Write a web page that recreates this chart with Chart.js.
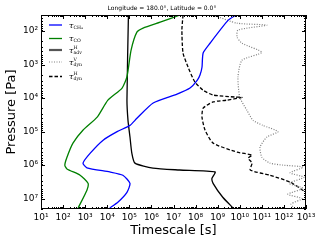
<!DOCTYPE html>
<html>
<head>
<meta charset="utf-8">
<script src="https://cdn.jsdelivr.net/npm/chart.js@4.4.1/dist/chart.umd.min.js"></script>
<style>
html, body { margin: 0; padding: 0; background: #fff; }
#wrap { width: 324px; height: 243px; }
</style>
</head>
<body>
<div id="wrap"><canvas id="chart"></canvas></div>
<script>
// timescale [s] and pressure [Pa]
var tauCH4 = [6.8e9, 3e9, 4.5e8, 2.2e8, 1.95e8, 1.6e8, 1.2e8, 5.6e7, 1.45e7, 1.2e6, 2.2e5, 1.07e5, 2.8e4, 6.5e3, 1.7e3, 8e2, 1.2e3, 1.3e4, 5.1e4, 1.07e5, 7.8e4, 3.1e4, 1.3e4];
var presCH4 = [33, 47, 230, 450, 1.2e3, 2e3, 2.9e3, 5e3, 7.6e3, 1.4e4, 4e4, 6.5e4, 1e5, 1.8e5, 4.4e5, 8.7e5, 1.2e6, 1.6e6, 2e6, 3.5e6, 6.5e6, 1.26e7, 1.9e7];

var tauCO = [2e7, 2.5e6, 4.2e5, 2.2e5, 1.2e5, 7.8e4, 4.7e4, 1.07e4, 3.5e3, 7.9e2, 2.8e2, 1.5e2, 1.2e2, 1.5e2, 5.9e2, 1.35e3, 1.2e3, 4.8e2];
var presCO = [33, 54, 81, 107, 370, 2.3e3, 5e3, 1.15e4, 3.7e4, 9.1e4, 2.2e5, 5.8e5, 1e6, 1.3e6, 2e6, 3.5e6, 5.6e6, 1.9e7];

var tauAdv = [9.1e4, 7.8e4, 8.7e4, 1.07e5, 1.3e5, 1.8e5, 1.17e6, 1.9e7, 7.6e8, 5.5e8, 6.2e8, 1.7e9, 5e9];
var presAdv = [33, 1.15e4, 4.6e4, 1.45e5, 4.4e5, 8.7e5, 1.23e6, 1.4e6, 1.6e6, 2.5e6, 3.5e6, 9.1e6, 1.9e7];

var tauDynV = [6.2e8, 7.6e9, 1.7e11, 8.3e9, 7.6e9, 1.26e10, 1e11, 1.26e10, 8.3e9, 1e10, 2.1e10, 4e10, 1.1e11, 5.4e11, 1.7e11, 8.3e10, 1e11, 2.3e11, 9.1e11, 7.4e12, 1.9e12, 8.1e12, 1.7e12, 7.4e12, 1.5e12, 6.6e12, 2.1e12, 2.9e12];
var presDynV = [33, 58, 66, 93, 150, 230, 430, 740, 2.3e3, 9.3e3, 2.3e4, 4.6e4, 6.5e4, 1e5, 1.45e5, 2.9e5, 5.8e5, 8.7e5, 1e6, 1.15e6, 1.7e6, 2.3e6, 3.5e6, 4.9e6, 7.4e6, 1e7, 1.45e7, 1.9e7];

var tauDynH = [2.7e7, 2.4e7, 2.7e7, 4.6e7, 9.3e7, 2.2e8, 6.2e8, 6.2e9, 1.26e10, 2.6e9, 6.2e8, 2.2e8, 1.95e8, 2.7e8, 6.2e8, 7.6e9, 3.6e10, 2.4e10, 3.6e10, 3e10, 2.3e11, 1.9e12, 1e13];
var presDynH = [33, 93, 450, 1.2e3, 3.3e3, 5.8e3, 8.1e3, 9.3e3, 9.5e3, 1.15e4, 1.3e4, 2e4, 3.7e4, 9.1e4, 2.2e5, 4.1e5, 5e5, 6.2e5, 8.7e5, 1.4e6, 2e6, 3.2e6, 6.5e6];

var xRange = [10, 1e13];
var yRange = [33, 2.04e7];

var SUP = {'0':'⁰','1':'¹','2':'²','3':'³','4':'⁴','5':'⁵','6':'⁶','7':'⁷','8':'⁸','9':'⁹','-':'⁻'};

function pts(xs, ys) {
    var out = [];
    for (var i = 0; i < xs.length; i++) out.push({x: xs[i], y: ys[i]});
    return out;
}

function isPow10(v) {
    var l = Math.log10(v);
    return Math.abs(l - Math.round(l)) < 1e-9;
}

function powLabel(v) {
    if (!isPow10(v)) return '';
    var e = String(Math.round(Math.log10(v)));
    return '10' + e.split('').map(function (c) { return SUP[c]; }).join('');
}

function logTicks(min, max) {
    var t = [];
    for (var n = Math.floor(Math.log10(min)); n <= Math.ceil(Math.log10(max)); n++) {
        for (var m = 1; m < 10; m++) {
            var v = m * Math.pow(10, n);
            if (m === 1) v = Math.pow(10, n);
            if (v >= min * 0.999 && v <= max * 1.001) t.push({value: v});
        }
    }
    return t;
}

var legendItems = [
    {color: '#0000ff', dash: [], width: 1.3, sup: '', sub: 'CH\u2084'},
    {color: '#008000', dash: [], width: 1.3, sup: '', sub: 'CO'},
    {color: '#555555', dash: [], width: 2.2, sup: 'H', sub: 'adv'},
    {color: '#808080', dash: [1, 1.5], width: 1.2, sup: 'V', sub: 'dyn'},
    {color: '#000000', dash: [3.5, 2], width: 1.3, sup: 'H', sub: 'dyn'}
];
var legendY = [25, 38.5, 50, 62, 76.5];

var decor = {
    id: 'decor',
    afterDraw: function (chart) {
        var ctx = chart.ctx, a = chart.chartArea;
        var sx = chart.scales.x, sy = chart.scales.y;
        ctx.save();
        ctx.strokeStyle = '#000';
        ctx.lineWidth = 1;
        ctx.setLineDash([]);
        ctx.strokeRect(a.left + 0.5, a.top + 0.5, a.right - a.left - 1, a.bottom - a.top - 1);
        // inward ticks on all sides
        sx.ticks.forEach(function (t) {
            var px = Math.round(sx.getPixelForValue(t.value)) + 0.5;
            var len = isPow10(t.value) ? 4 : 2;
            ctx.beginPath();
            ctx.moveTo(px, a.bottom); ctx.lineTo(px, a.bottom - len);
            ctx.moveTo(px, a.top); ctx.lineTo(px, a.top + len);
            ctx.stroke();
        });
        sy.ticks.forEach(function (t) {
            var py = Math.round(sy.getPixelForValue(t.value)) + 0.5;
            var len = isPow10(t.value) ? 4 : 2;
            ctx.beginPath();
            ctx.moveTo(a.left, py); ctx.lineTo(a.left + len, py);
            ctx.moveTo(a.right, py); ctx.lineTo(a.right - len, py);
            ctx.stroke();
        });
        // title
        ctx.fillStyle = '#000';
        ctx.font = '6px "DejaVu Sans"';
        ctx.textAlign = 'center';
        ctx.textBaseline = 'middle';
        ctx.fillText('Longitude = 180.0°, Latitude = 0.0°', 162, 8);
        // legend
        legendItems.forEach(function (it, i) {
            var y = legendY[i];
            ctx.strokeStyle = it.color;
            ctx.lineWidth = it.width;
            ctx.setLineDash(it.dash);
            ctx.beginPath();
            ctx.moveTo(49, y); ctx.lineTo(62, y);
            ctx.stroke();
            ctx.setLineDash([]);
            ctx.fillStyle = '#000';
            ctx.textAlign = 'left';
            ctx.textBaseline = 'alphabetic';
            ctx.font = 'italic 8px "DejaVu Serif"';
            ctx.fillText('τ', 69, y + 2.5);
            ctx.font = '4.6px "DejaVu Serif"';
            ctx.fillText(it.sub, 73.5, y + 3.8);
            if (it.sup) ctx.fillText(it.sup, 73.5, y - 1.5);
        });
        ctx.restore();
    }
};

var ctx = document.getElementById('chart').getContext('2d');
new Chart(ctx, {
    type: 'scatter',
    data: {
        datasets: [
            {data: pts(tauCH4, presCH4), borderColor: '#0000ff', borderWidth: 1.3},
            {data: pts(tauCO, presCO), borderColor: '#008000', borderWidth: 1.3},
            {data: pts(tauAdv, presAdv), borderColor: '#000000', borderWidth: 1.3},
            {data: pts(tauDynV, presDynV), borderColor: '#808080', borderWidth: 1.2, borderDash: [1, 1.5]},
            {data: pts(tauDynH, presDynH), borderColor: '#000000', borderWidth: 1.3, borderDash: [3.5, 2]}
        ]
    },
    options: {
        responsive: true,
        maintainAspectRatio: false,
        animation: false,
        showLine: true,
        elements: {
            point: {radius: 0, hoverRadius: 0},
            line: {tension: 0.2, fill: false}
        },
        layout: {padding: {top: 15, right: 18, left: 0, bottom: 0}},
        plugins: {legend: {display: false}, tooltip: {enabled: false}},
        scales: {
            x: {
                type: 'logarithmic',
                min: xRange[0], max: xRange[1],
                afterBuildTicks: function (s) { s.ticks = logTicks(xRange[0], xRange[1]); },
                afterFit: function (s) { s.height = 34; },
                grid: {display: false, drawTicks: false},
                border: {display: false},
                ticks: {
                    autoSkip: false, maxRotation: 0, padding: 3,
                    color: '#000', font: {family: 'DejaVu Sans', size: 9},
                    callback: function (v) { return powLabel(v); }
                },
                title: {display: true, text: 'Timescale [s]', color: '#000',
                    font: {family: 'DejaVu Sans', size: 13}, padding: {top: 0, bottom: 5}}
            },
            y: {
                type: 'logarithmic',
                reverse: true,
                min: yRange[0], max: yRange[1],
                afterBuildTicks: function (s) { s.ticks = logTicks(yRange[0], yRange[1]); },
                afterFit: function (s) { s.width = 41; },
                grid: {display: false, drawTicks: false},
                border: {display: false},
                ticks: {
                    autoSkip: false, padding: 3,
                    color: '#000', font: {family: 'DejaVu Sans', size: 9},
                    callback: function (v) { return powLabel(v); }
                },
                title: {display: true, text: 'Pressure [Pa]', color: '#000',
                    font: {family: 'DejaVu Sans', size: 13}, padding: {top: 4, bottom: 0}}
            }
        }
    },
    plugins: [decor]
});
</script>
</body>
</html>
